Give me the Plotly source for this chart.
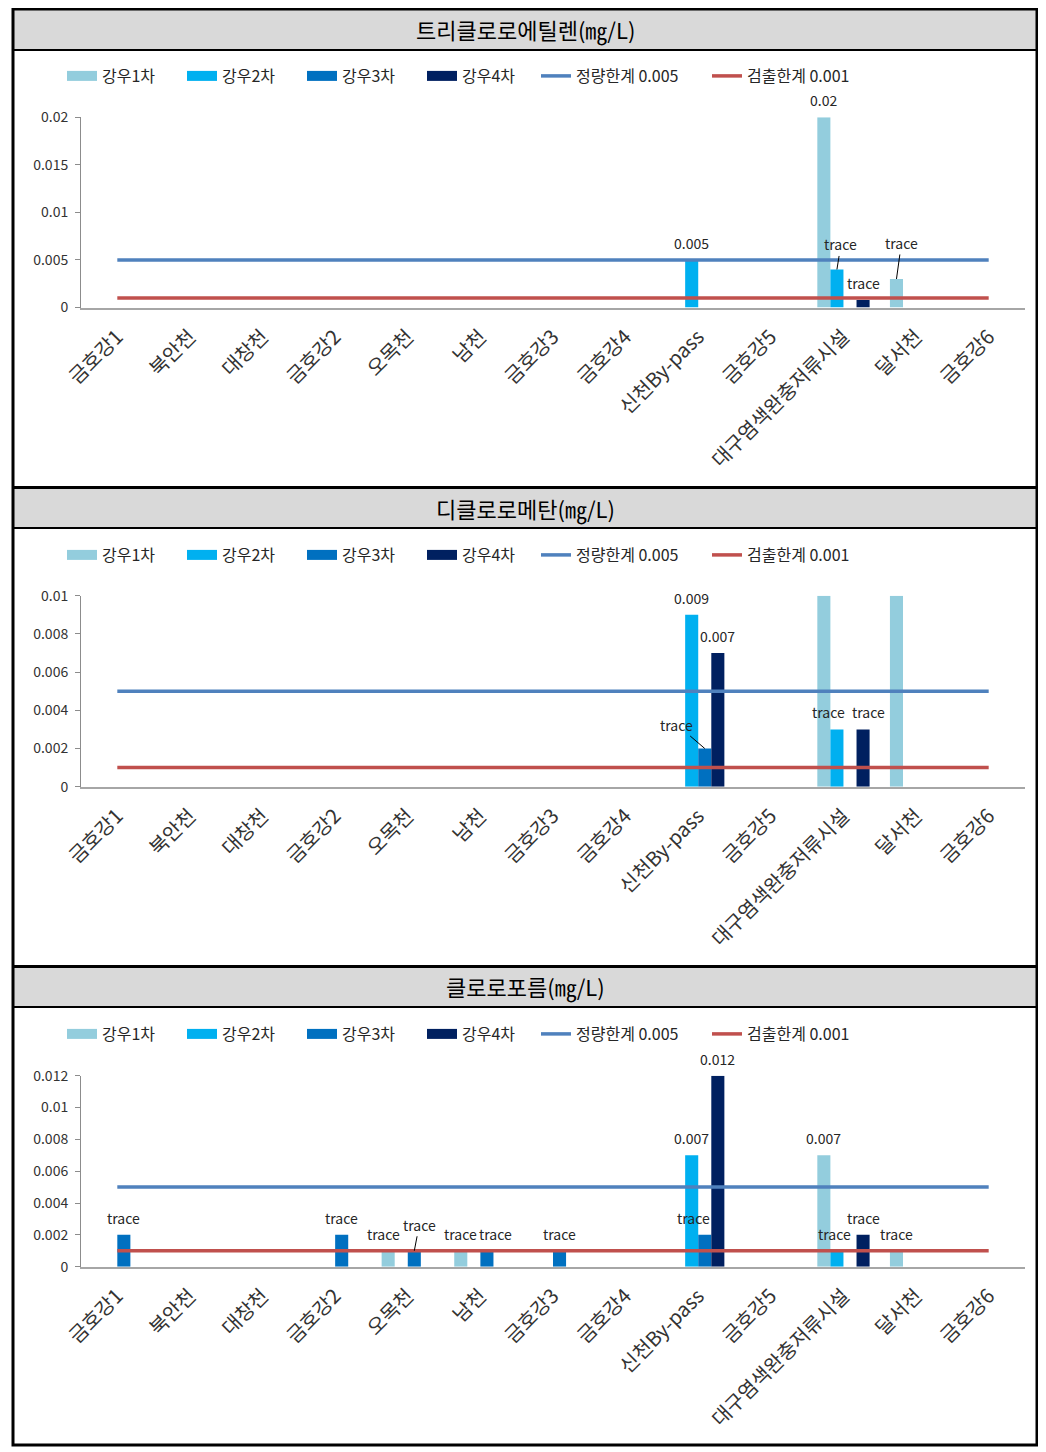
import plotly.graph_objects as go

W, H = 1046, 1452

# ---------------- data ----------------
categories = ['금호강1', '북안천', '대창천', '금호강2', '오목천', '남천', '금호강3', '금호강4',
              '신천By-pass', '금호강5', '대구염색완충저류시설', '달서천', '금호강6']
series_names = ['강우1차', '강우2차', '강우3차', '강우4차']
limit_names = ['정량한계 0.005', '검출한계 0.001']
limit_values = [0.005, 0.001]
panel_titles = ['트리클로로에틸렌(㎎/L)', '디클로로메탄(㎎/L)', '클로로포름(㎎/L)']

N = None
tce_r1 = [N, N, N, N, N, N, N, N, N, N, 0.02, 0.003, N]
tce_r2 = [N, N, N, N, N, N, N, N, 0.005, N, 0.004, N, N]
tce_r3 = [N, N, N, N, N, N, N, N, N, N, N, N, N]
tce_r4 = [N, N, N, N, N, N, N, N, N, N, 0.0008, N, N]

dcm_r1 = [N, N, N, N, N, N, N, N, N, N, 0.01, 0.01, N]
dcm_r2 = [N, N, N, N, N, N, N, N, 0.009, N, 0.003, N, N]
dcm_r3 = [N, N, N, N, N, N, N, N, 0.002, N, N, N, N]
dcm_r4 = [N, N, N, N, N, N, N, N, 0.007, N, 0.003, N, N]

cf_r1 = [N, N, N, N, 0.001, 0.001, N, N, N, N, 0.007, 0.001, N]
cf_r2 = [N, N, N, N, N, N, N, N, 0.007, N, 0.001, N, N]
cf_r3 = [0.002, N, N, 0.002, 0.001, 0.001, 0.001, N, 0.002, N, N, N, N]
cf_r4 = [N, N, N, N, N, N, N, N, 0.012, N, 0.002, N, N]

# data labels: (category, series index, text)
tce_labels = [('신천By-pass', 1, '0.005'), ('대구염색완충저류시설', 0, '0.02'),
              ('대구염색완충저류시설', 1, 'trace'), ('대구염색완충저류시설', 3, 'trace'),
              ('달서천', 0, 'trace')]
dcm_labels = [('신천By-pass', 1, '0.009'), ('신천By-pass', 2, 'trace'), ('신천By-pass', 3, '0.007'),
              ('대구염색완충저류시설', 1, 'trace'), ('대구염색완충저류시설', 3, 'trace')]
cf_labels = [('금호강1', 2, 'trace'), ('금호강2', 2, 'trace'), ('오목천', 0, 'trace'),
             ('오목천', 2, 'trace'), ('남천', 0, 'trace'), ('남천', 2, 'trace'),
             ('금호강3', 2, 'trace'), ('신천By-pass', 1, '0.007'), ('신천By-pass', 2, 'trace'),
             ('신천By-pass', 3, '0.012'), ('대구염색완충저류시설', 0, '0.007'),
             ('대구염색완충저류시설', 1, 'trace'), ('대구염색완충저류시설', 3, 'trace'),
             ('달서천', 0, 'trace')]

panels = [
    dict(values=[tce_r1, tce_r2, tce_r3, tce_r4], labels=tce_labels, ymax=0.02, dtick=0.005),
    dict(values=[dcm_r1, dcm_r2, dcm_r3, dcm_r4], labels=dcm_labels, ymax=0.01, dtick=0.002),
    dict(values=[cf_r1, cf_r2, cf_r3, cf_r4], labels=cf_labels, ymax=0.012, dtick=0.002),
]

# ---------------- style ----------------
series_colors = ['#93CDDD', '#00B0F0', '#0070C0', '#002060']
limit_colors = ['#4F81BD', '#C0504D']
FONT = 'Noto Sans CJK KR'
TXT = '#262626'
BARGAP = 0.28
PAGE_OFF = 8  # default page margin of the html body

# label nudges (px): (panel, category, series) -> (dx, dy, leader line)
nudges = {
    (0, '대구염색완충저류시설', 1): (4, -25, True),
    (0, '달서천', 0): (5, -36, True),
    (1, '신천By-pass', 2): (-28, -24, True),
    (1, '대구염색완충저류시설', 1): (-8, -17, False),
    (1, '대구염색완충저류시설', 3): (5, -17, False),
    (2, '오목천', 0): (-5, -17, False),
    (2, '오목천', 2): (5, -26, True),
    (2, '남천', 2): (9, -17, False),
    (2, '신천By-pass', 2): (-11, -17, False),
    (2, '대구염색완충저류시설', 1): (-2, -17, False),
}

# panel geometry in screen px: (header top, header bottom, body bottom, plot top, plot bottom)
geom = [
    (9, 50, 487, 117.3, 307.5),
    (488, 528, 966, 595.7, 786.7),
    (967, 1007, 1445, 1075.7, 1266.7),
]
PLOT_L, PLOT_R = 81, 1025
FRAME_L, FRAME_R = 13, 1037


def fx(x):
    return (x - PAGE_OFF) / W


def fy(y):
    return 1 - (y - PAGE_OFF) / H


fig = go.Figure()
layout = dict(template='none', width=W, height=H, margin=dict(l=0, r=0, t=0, b=0, pad=0),
              autosize=False, paper_bgcolor='white', plot_bgcolor='white', barmode='group',
              bargap=BARGAP, bargroupgap=0, font=dict(family=FONT, color=TXT),
              showlegend=True)
shapes, annotations = [], []
w_bar = (1 - BARGAP) / 4

for p, panel in enumerate(panels):
    k = '' if p == 0 else str(p + 1)
    xa, ya = 'x' + k, 'y' + k
    leg_bar = 'legend' if p == 0 else 'legend' + str(2 * p + 1)
    leg_line = 'legend' + str(2 * p + 2)
    ht, hb, bb, pt, pb = geom[p]

    for s, name in enumerate(series_names):
        fig.add_trace(go.Bar(x=categories, y=panel['values'][s], name=name,
                             marker=dict(color=series_colors[s], line=dict(width=0)),
                             xaxis=xa, yaxis=ya, showlegend=False,
                             legendgroup=f'p{p}s{s}', hoverinfo='x+y+name'))
        fig.add_trace(go.Scatter(x=[None], y=[None], mode='lines', name=name,
                                 line=dict(color=series_colors[s], width=10),
                                 xaxis=xa, yaxis=ya, legend=leg_bar,
                                 legendgroup=f'p{p}s{s}'))
    for j, name in enumerate(limit_names):
        fig.add_trace(go.Scatter(x=categories, y=[limit_values[j]] * len(categories),
                                 mode='lines', name=name,
                                 line=dict(color=limit_colors[j], width=3.5),
                                 xaxis=xa, yaxis=ya, legend=leg_line))

    layout['xaxis' + k] = dict(domain=[fx(PLOT_L), fx(PLOT_R)], anchor=ya, type='category',
                               showline=True, linecolor='#A6A6A6', linewidth=1.5,
                               ticks='', showgrid=False, zeroline=False, tickangle=-45,
                               tickfont=dict(family=FONT, size=20, color='#333333'),
                               ticklabelstandoff=8, automargin=False, fixedrange=True)
    layout['yaxis' + k] = dict(domain=[fy(pb), fy(pt)], anchor=xa,
                               range=[0, panel['ymax']], dtick=panel['dtick'],
                               showline=True, linecolor='#8C8C8C', linewidth=1,
                               ticks='outside', ticklen=5, tickcolor='#8C8C8C',
                               showgrid=False, zeroline=False, automargin=False,
                               tickfont=dict(family=FONT, size=14, color='#333333'),
                               ticklabelstandoff=4, fixedrange=True)
    leg_common = dict(orientation='h', xanchor='left', yanchor='middle', y=fy(ht + 67),
                      bgcolor='rgba(0,0,0,0)', borderwidth=0, entrywidthmode='pixels',
                      font=dict(family=FONT, size=16, color=TXT), itemclick=False,
                      itemdoubleclick=False)
    layout[leg_bar] = dict(leg_common, x=fx(62), entrywidth=75)
    layout[leg_line] = dict(leg_common, x=fx(536), entrywidth=126)

    # frames
    shapes.append(dict(type='rect', xref='paper', yref='paper', x0=fx(FRAME_L), x1=fx(FRAME_R),
                       y0=fy(hb), y1=fy(ht), fillcolor='#D9D9D9',
                       line=dict(color='black', width=2), layer='below'))
    shapes.append(dict(type='rect', xref='paper', yref='paper', x0=fx(FRAME_L), x1=fx(FRAME_R),
                       y0=fy(bb), y1=fy(hb), fillcolor='rgba(0,0,0,0)',
                       line=dict(color='black', width=2), layer='above'))
    annotations.append(dict(xref='paper', yref='paper', x=fx((FRAME_L + FRAME_R) / 2),
                            y=fy((ht + hb) / 2), text=panel_titles[p], showarrow=False,
                            xanchor='center', yanchor='middle',
                            font=dict(family=FONT, size=22, color='black')))

    # data labels
    for cat, s, text in panel['labels']:
        ci = categories.index(cat)
        xv = ci + (s - 1.5) * w_bar
        yv = panel['values'][s][ci]
        dx, dy, leader = nudges.get((p, cat, s), (0, -17, False))
        ann = dict(xref=xa, yref=ya, x=xv, y=yv, text=text,
                   font=dict(family=FONT, size=14, color=TXT))
        if leader:
            ann.update(showarrow=True, ax=dx, ay=dy, arrowhead=0, arrowwidth=1,
                       arrowcolor='#000000', standoff=0, startstandoff=0)
        else:
            ann.update(showarrow=False, xshift=dx, yshift=-dy, xanchor='center',
                       yanchor='middle')
        annotations.append(ann)

# outer thick frame
shapes.append(dict(type='rect', xref='paper', yref='paper', x0=fx(FRAME_L), x1=fx(FRAME_R),
                   y0=fy(1445), y1=fy(9), line=dict(color='black', width=3), layer='above'))

layout['shapes'] = shapes
layout['annotations'] = annotations
fig.update_layout(**layout)
fig.write_html('out.html')
